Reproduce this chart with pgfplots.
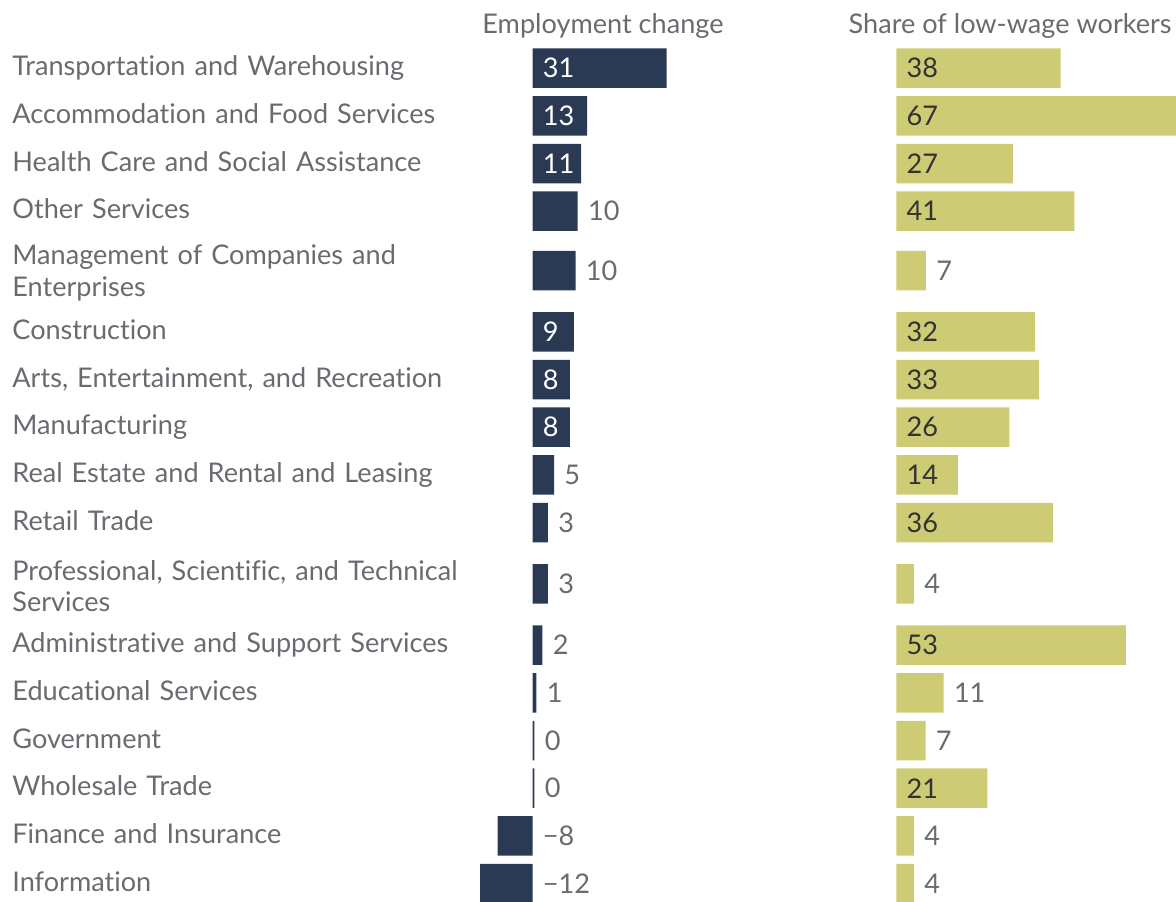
\documentclass[border=0pt]{standalone}
\usepackage{pgfplots}
\pgfplotsset{compat=1.18}
\usepackage{fontspec}
\setmainfont[Ligatures={NoCommon,NoDiscretionary}]{Lato}
\definecolor{navy}{HTML}{2A3A55}
\definecolor{khaki}{HTML}{CDCB73}
\definecolor{lbl}{HTML}{686C70}
\definecolor{dark}{HTML}{333333}
\newcommand{\F}{\fontsize{13.55}{15.85}\selectfont}
\pgfplotsset{
  panel/.style={scale only axis, height=450.5pt, anchor=north west,
    ymin=0, ymax=901, y dir=reverse,
    axis line style={draw=none}, tick style={draw=none}, major tick length=0pt,
    xtick=\empty},
  inlbl/.style={only marks, mark=none, nodes near coords, point meta=explicit symbolic,
    every node near coord/.append style={anchor=west, inner sep=0pt, xshift=5pt, font=\F, text=#1}},
}
\begin{document}
\begin{tikzpicture}
\useasboundingbox (0,0) rectangle (588pt,-450.5pt);
% Employment change
\begin{axis}[panel, width=150.5pt, at={(223.25pt,0pt)},
  xmin=-20, xmax=50, clip=false,
  ytick={68,115.8,163.5,211.2,270.5,331.8,379.5,427.2,474.9,522.6,583.8,645.1,692.8,740.5,788.2,835.9,883.6},
  yticklabels={Transportation and Warehousing, Accommodation and Food Services,
    Health Care and Social Assistance, Other Services,
    {Management of Companies and\\Enterprises}, Construction,
    {Arts, Entertainment, and Recreation}, Manufacturing,
    Real Estate and Rental and Leasing, Retail Trade,
    {Professional, Scientific, and Technical\\Services},
    Administrative and Support Services, Educational Services, Government,
    Wholesale Trade, Finance and Insurance, Information},
  typeset ticklabels with strut,
  yticklabel style={anchor=west, inner sep=0pt, xshift=-217.25pt, yshift=-0.6pt, text width=240pt, align=left, font=\F, text=lbl},
]
\addplot[xbar, bar width=39.5, fill=navy, draw=none] coordinates {
 (31.2,68) (12.7,115.8) (11.3,163.5) (10.5,211.2) (10.0,270.5) (9.6,331.8)
 (8.7,379.5) (8.7,427.2) (5.0,474.9) (3.6,522.6) (3.6,583.8) (2.3,645.1)
 (0.9,692.8) (0.45,740.5) (0.45,788.2) (-8.1,835.9) (-12.2,883.6)};
\addplot[inlbl=white] coordinates {
 (0,68)[31] (0,115.8)[13] (0,163.5)[11] (0,331.8)[9] (0,379.5)[8] (0,427.2)[8]};
\addplot[inlbl=lbl] coordinates {
 (10.5,211.2)[10] (10.0,270.5)[10] (5.0,474.9)[5] (3.6,522.6)[3] (3.6,583.8)[3]
 (2.3,645.1)[2] (0.9,692.8)[1] (0.45,740.5)[0] (0.45,788.2)[0]
 (0,835.9)[−8] (0,883.6)[−12]};
\end{axis}
% Share of low-wage workers
\begin{axis}[panel, width=139.85pt, at={(448.15pt,0pt)},
  xmin=0, xmax=65.05, ytick=\empty, clip mode=individual]
\addplot[xbar, bar width=39.5, fill=khaki, draw=none] coordinates {
 (38.2,68) (67,115.8) (27.1,163.5) (41.4,211.2) (6.9,270.5) (32.3,331.8)
 (33.2,379.5) (26.3,427.2) (14.3,474.9) (36.4,522.6) (4.1,583.8) (53.4,645.1)
 (11.0,692.8) (6.8,740.5) (21.2,788.2) (4.1,835.9) (4.1,883.6)};
\addplot[inlbl=dark] coordinates {
 (0,68)[38] (0,115.8)[67] (0,163.5)[27] (0,211.2)[41] (0,331.8)[32] (0,379.5)[33]
 (0,427.2)[26] (0,474.9)[14] (0,522.6)[36] (0,645.1)[53] (0,788.2)[21]};
\addplot[inlbl=lbl] coordinates {
 (6.9,270.5)[7] (4.1,583.8)[4] (11.0,692.8)[11] (6.8,740.5)[7] (4.1,835.9)[4] (4.1,883.6)[4]};
\end{axis}
\node[anchor=base west, inner sep=0pt, font=\F, text=lbl] at (241pt,-16.6pt) {Employment change};
\node[anchor=base east, inner sep=0pt, font=\F, text=lbl] at (586pt,-16.6pt) {Share of low-wage workers};
\end{tikzpicture}
\end{document}
